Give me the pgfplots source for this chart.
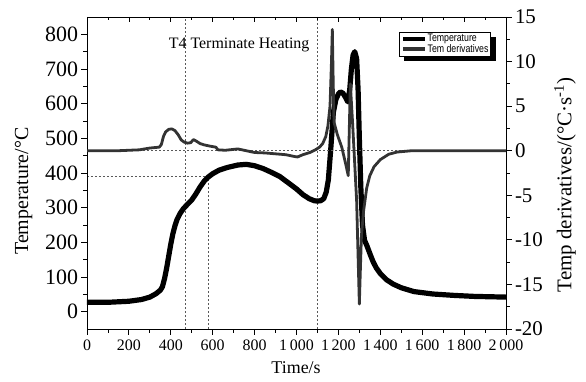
\documentclass[border=0pt]{standalone}
\usepackage{fontspec}
\setmainfont{Liberation Serif}
\newfontfamily\legfont[FakeStretch=0.8]{Liberation Sans}
\usepackage{pgfplots}
\pgfplotsset{compat=1.18}
\usetikzlibrary{backgrounds,calc}
\definecolor{dcol}{rgb}{0.2,0.2,0.2}
\definecolor{dashcol}{rgb}{0.35,0.35,0.35}
\pgfplotsset{
  common/.style={
    width=419bp, height=312bp, scale only axis,
    at={(0,0)}, anchor=south west,
    xmin=0, xmax=2000,
    axis line style={line width=0.9bp},
    tick style={line width=0.8bp, black},
    major tick length=5.5bp, minor tick length=3.5bp,
    /pgf/number format/assume math mode=true,
  },
  refline/.style={dashcol, line width=0.5bp, dash pattern=on 2bp off 2bp, forget plot},
}
\begin{document}
\begin{tikzpicture}
% ---------- Temperature (left axis) ----------
\begin{axis}[common,
  ymin=-50, ymax=850, ytick={0,100,...,800}, minor y tick num=1,
  xtick={0,200,...,2000}, minor x tick num=1,
  xtick pos=left, ytick pos=left, tick align=outside,
  x tick label style={font=\fontsize{16}{17}\selectfont, yshift=-1.5bp, /pgf/number format/1000 sep={\,}},
  y tick label style={font=\fontsize{22}{23}\selectfont},
  xlabel={Time/s}, ylabel={Temperature/°C},
  xlabel style={font=\fontsize{18}{20}\selectfont, at={(axis description cs:0.499,-0.125)}, anchor=center},
  ylabel style={font=\fontsize{20}{22}\selectfont, at={(axis description cs:-0.1515,0.442)}, anchor=center},
]
\addplot[refline] coordinates {(0,390) (580,390)};
\addplot[refline] coordinates {(580,-50) (580,390)};
\addplot[refline] coordinates {(470,-50) (470,850)};
\addplot[refline] coordinates {(1100,-50) (1100,850)};
\addplot[black, line width=5.2bp, line join=round, line cap=round] table {
0 27
100 27
200 30
260 35
300 42
330 52
350 62
360 72
370 95
380 125
390 160
400 195
410 225
420 248
430 266
445 284
460 297
480 310
500 322
520 340
540 360
560 377
580 389
600 398
630 408
670 416
720 423
760 425
800 421
840 413
880 402
920 390
960 372
1000 354
1030 338
1060 326
1085 320
1100 319
1115 320
1130 326
1142 345
1152 380
1163 465
1176 575
1188 612
1200 628
1210 634
1222 630
1234 618
1245 605
1254 640
1262 700
1270 740
1278 750
1287 730
1294 640
1300 500
1307 360
1315 250
1325 205
1335 192
1350 168
1365 145
1380 127
1400 110
1430 92
1460 80
1500 69
1560 58
1650 51
1750 47
1850 44
2000 42
};
\node[font=\fontsize{16}{18}\selectfont] at (axis cs:726,768) {T4 Terminate Heating};
\end{axis}
% ---------- top ticks (inside) ----------
\begin{axis}[common,
  ymin=0, ymax=1, ytick=\empty,
  xtick={0,200,...,2000}, minor x tick num=1,
  xtick pos=right, tick align=inside, xticklabels={},
]
\end{axis}
% ---------- Derivative (right axis) ----------
\begin{axis}[common,
  ymin=-20, ymax=15, ytick={-20,-15,...,15}, minor y tick num=1,
  axis x line=none, axis y line*=right,
  tick align=outside,
  y tick label style={font=\fontsize{21}{22}\selectfont},
  ylabel={Temp derivatives/(°C·s\textsuperscript{-1})},
  ylabel style={font=\fontsize{21}{22}\selectfont, at={(axis description cs:1.1408,0.4615)}, anchor=center},
  legend style={name=leg, at={(axis description cs:0.964,0.952)}, anchor=north east,
    draw=black, line width=0.6bp, fill=white,
    font=\legfont\fontsize{11}{12}\selectfont,
    inner sep=1.5bp, nodes={inner sep=0.6bp}},
  legend cell align=left,
  legend image code/.code={\draw[#1, line width=4bp] (0bp,0.3bp) -- (22bp,0.3bp);},
]
\addplot[refline] coordinates {(0,0) (2000,0)};
\addlegendimage{black, line width=5bp}
\addlegendentry{Temperature}
\addplot[dcol, line width=2.8bp, line join=round] table {
0 0
150 0
250 0.1
300 0.3
345 0.4
355 0.7
365 1.6
375 2.1
390 2.4
405 2.45
420 2.25
435 1.8
450 1.2
465 0.95
480 0.85
495 0.9
508 1.25
520 1.1
540 0.8
560 0.65
590 0.5
615 0.4
625 0.1
660 0.05
700 0.15
720 0.2
750 0.05
800 -0.2
850 -0.25
900 -0.35
950 -0.45
990 -0.65
1005 -0.7
1030 -0.45
1064 -0.2
1090 0.1
1110 0.4
1125 0.8
1140 1.6
1150 2.8
1160 5
1167 10
1171 13.6
1175 8
1179 3.2
1195 1.8
1216 0.4
1235 -1.5
1247 -2.8
1257 7.5
1268 3
1287 -5.6
1300 -17.2
1304 -14
1310 -9.5
1320 -6.8
1335 -4.2
1350 -2.8
1370 -1.8
1400 -1.0
1440 -0.4
1480 -0.15
1550 0
2000 0
};
\addlegendentry{Tem derivatives}
\end{axis}
\begin{scope}[on background layer]
\fill[black] ($(leg.south west)+(5bp,-5bp)$) rectangle ($(leg.north east)+(5bp,-5bp)$);
\end{scope}
\pgfresetboundingbox
\path[use as bounding box] (-87bp,-53bp) rectangle (499bp,329bp);
\end{tikzpicture}
\end{document}
